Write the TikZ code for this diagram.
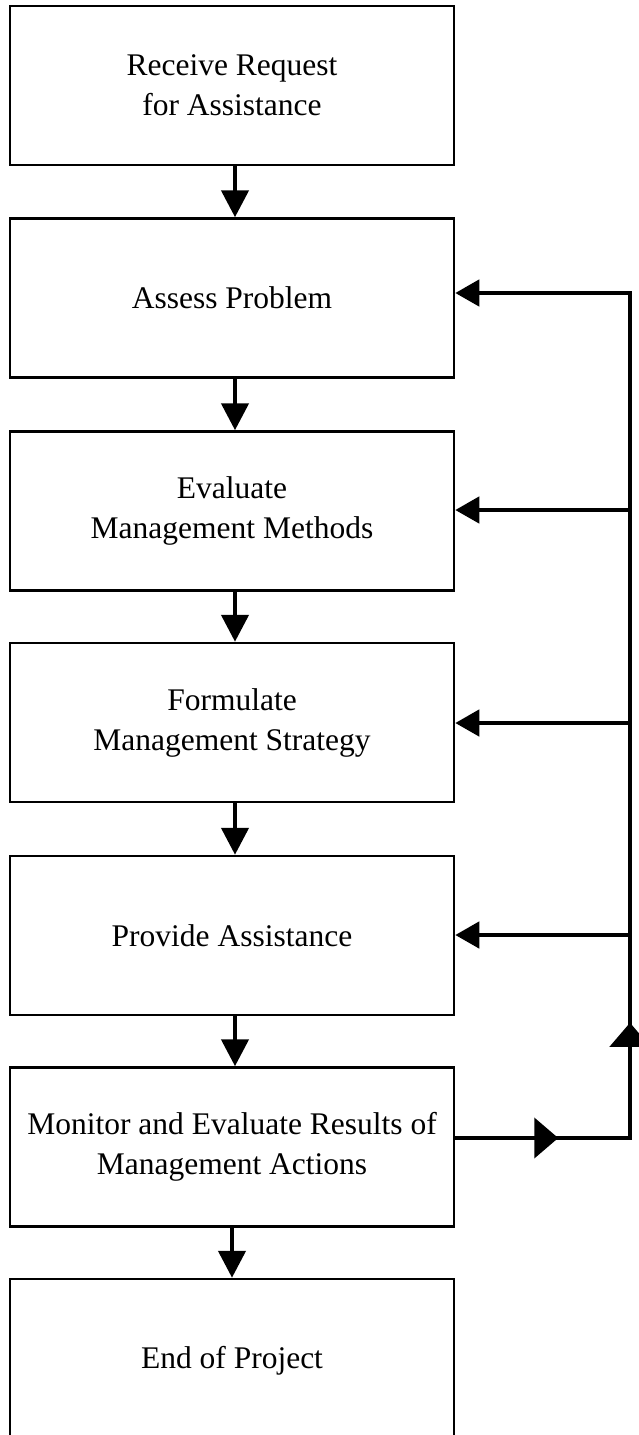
\documentclass[tikz,border=0pt]{standalone}
\usepackage{fontspec}
\setmainfont{Liberation Serif}
\usetikzlibrary{arrows.meta,decorations.markings}
\begin{document}
\begin{tikzpicture}[x=1pt,y=-1pt,
  box/.style={draw, line width=2.5pt, minimum width=444pt, minimum height=159pt,
    align=center, inner sep=0pt, font=\fontsize{31.5}{40}\selectfont},
  down/.style={line width=4.5pt, -{Triangle[length=27pt,width=27pt]}},
  back/.style={line width=4.5pt, -{Triangle[length=24pt,width=26pt]}},
  midtip/.tip={Triangle[length=24pt,width=40pt]},
  loop/.style={line width=4.5pt, -{Triangle[length=24pt,width=26pt]},
    postaction={decorate, decoration={markings,
      mark=at position 103pt with {\arrow{midtip}},
      mark=at position 290pt with {\arrow{midtip}}}}}
]
\useasboundingbox (0,0) rectangle (639,1435);
\clip (0,0) rectangle (639,1435);
\node[box] (a1) at (232,85.5) {Receive Request\\for Assistance};
\node[box] (a2) at (232,298) {Assess Problem};
\node[box] (a3) at (232,511) {Evaluate\\Management Methods};
\node[box] (a4) at (232,722.5) {Formulate\\Management Strategy};
\node[box] (a5) at (232,935.5) {Provide Assistance};
\node[box] (a6) at (232,1147) {Monitor and Evaluate Results of\\Management Actions};
\node[box, minimum height=163pt] (a7) at (232,1360.5) {End of Project};

\draw[down] ([xshift=3pt]a1.south) -- ([xshift=3pt]a2.north);
\draw[down] ([xshift=3pt]a2.south) -- ([xshift=3pt]a3.north);
\draw[down] ([xshift=3pt]a3.south) -- ([xshift=3pt]a4.north);
\draw[down] ([xshift=3pt]a4.south) -- ([xshift=3pt]a5.north);
\draw[down] ([xshift=3pt]a5.south) -- ([xshift=3pt]a6.north);
\draw[down] (a6.south) -- (a7.north);

\coordinate (br) at (630,1138);
\coordinate (tr) at (630,293);
\coordinate (r3) at (630,510);
\coordinate (r4) at (630,723);
\coordinate (r5) at (630,935);

\draw[loop] ([yshift=9pt]a6.east) -- (br) -- (tr) -- ([yshift=5pt]a2.east);
\draw[back] (r3) -- (r3 -| a3.east);
\draw[back] (r4) -- (r4 -| a4.east);
\draw[back] (r5) -- (r5 -| a5.east);
\end{tikzpicture}
\end{document}
